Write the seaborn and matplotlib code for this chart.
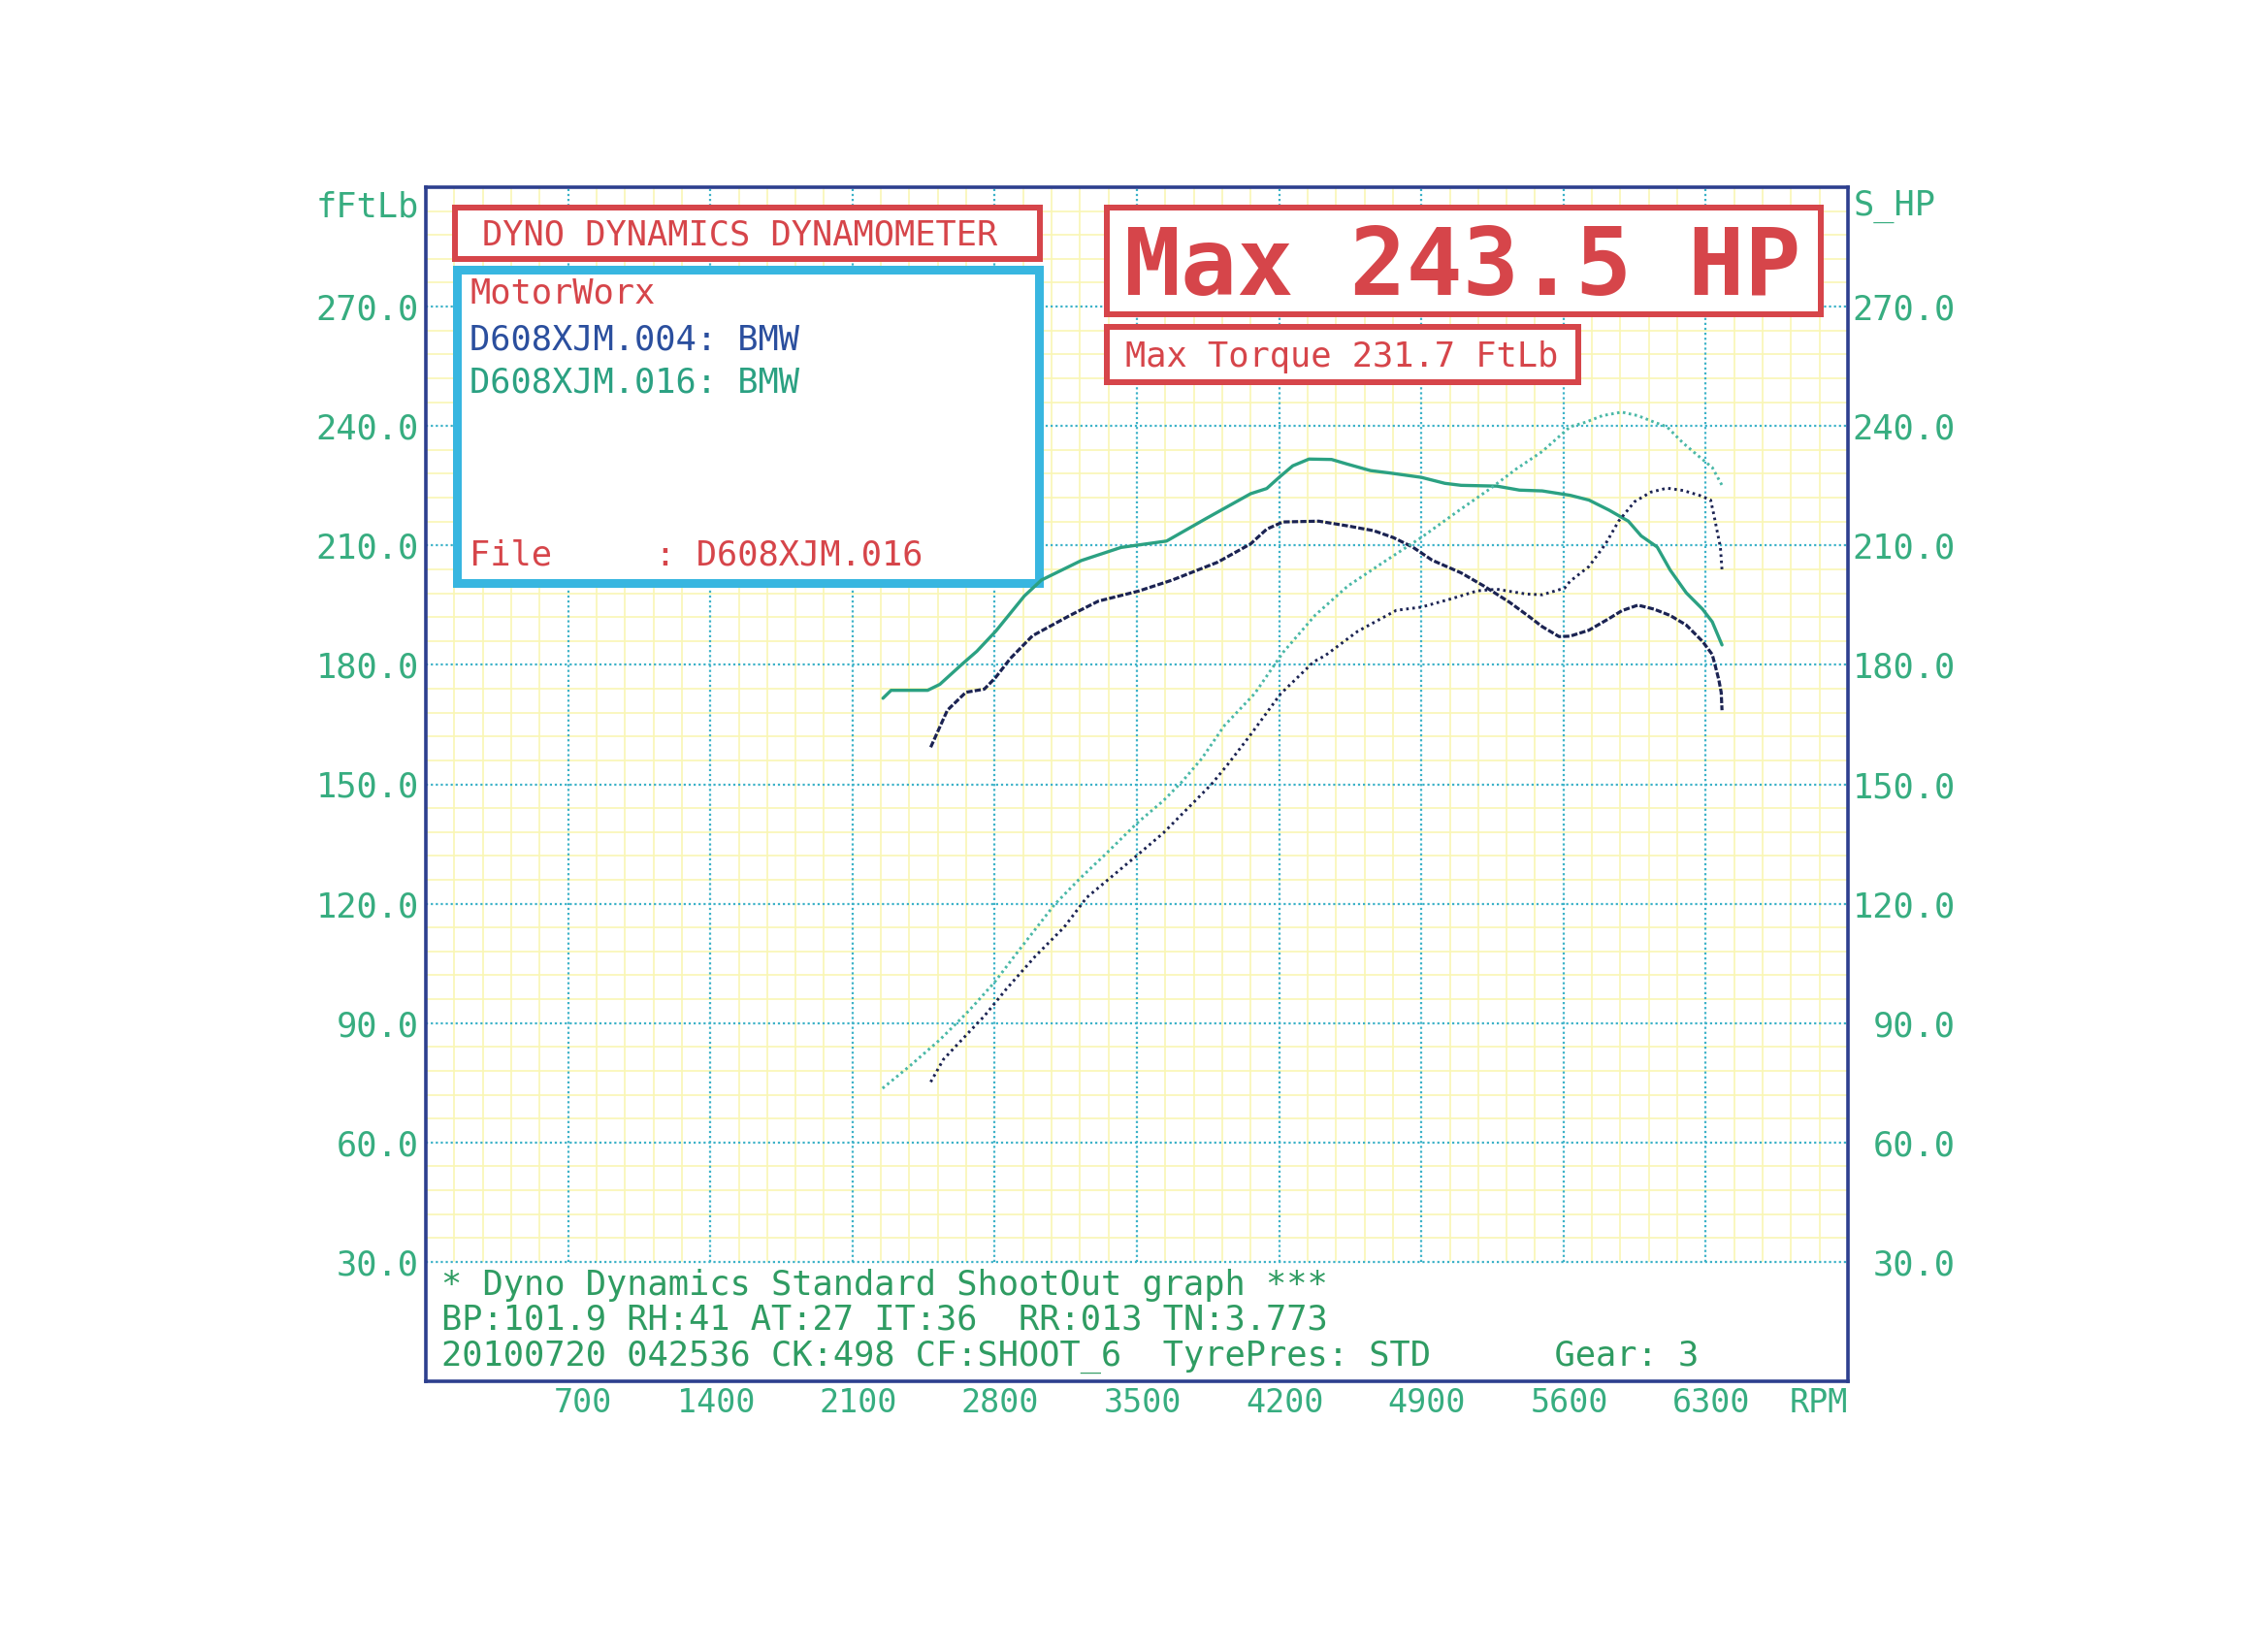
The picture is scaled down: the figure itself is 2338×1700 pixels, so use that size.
import numpy as np
import matplotlib
matplotlib.use("Agg")
import matplotlib.pyplot as plt
from matplotlib.patches import Rectangle
from matplotlib.transforms import ScaledTranslation
import seaborn as sns

# =========================
# DATA
# =========================

# run D608XJM.016 (green) - torque, FtLb
rpm_tq_016 = [2250, 2290, 2470, 2530, 2640, 2712, 2806, 2946, 3030, 3226, 3422, 3646,
              3842, 4060, 4139, 4200, 4267, 4347, 4458, 4538, 4650, 4745, 4900, 5016,
              5096, 5272, 5383, 5495, 5632, 5725, 5823, 5919, 5982, 6061, 6125, 6204,
              6284, 6332, 6380]
tq_016 = [171.6, 173.6, 173.6, 175.1, 180.2, 183.4, 188.5, 197.3, 201.3, 206.2, 209.5, 211.1,
          216.8, 223.0, 224.3, 227.1, 230.0, 231.7, 231.6, 230.4, 228.8, 228.2, 227.1, 225.6,
          225.1, 224.9, 223.9, 223.7, 222.6, 221.4, 218.9, 216.1, 212.4, 209.6, 203.8, 198.1,
          194.0, 190.8, 185.0]

# run D608XJM.004 (dark blue) - torque, FtLb
rpm_tq_004 = [2485, 2567, 2658, 2749, 2804, 2877, 2986, 3170, 3310, 3506, 3674, 3898,
              4060, 4139, 4219, 4395, 4538, 4666, 4761, 4857, 4953, 5096, 5208, 5335,
              5431, 5495, 5578, 5632, 5725, 5823, 5887, 5966, 6045, 6125, 6204, 6284,
              6332, 6348, 6364, 6376, 6380]
tq_004 = [159.3, 168.6, 173.1, 173.9, 176.8, 181.6, 187.3, 192.4, 196.0, 198.5, 201.3, 205.8,
          210.4, 214.1, 215.9, 216.1, 214.9, 213.7, 212.0, 209.6, 206.3, 203.1, 199.8, 195.7,
          192.1, 189.6, 187.1, 187.2, 188.7, 191.6, 193.6, 195.0, 194.0, 192.4, 190.0, 185.9,
          182.6, 179.5, 176.3, 173.1, 168.6]

# run D608XJM.016 (green) - power, HP
rpm_hp_016 = [2248, 2384, 2530, 2658, 2700, 2800, 2921, 3095, 3221, 3347, 3500, 3631,
              3725, 3820, 3930, 4080, 4219, 4378, 4538, 4729, 4900, 5080, 5240, 5367,
              5495, 5632, 5711, 5791, 5886, 5966, 6045, 6109, 6189, 6284, 6332, 6380]
hp_016 = [73.6, 79.3, 85.8, 92.3, 94.6, 100.3, 108.4, 119.8, 126.4, 132.5, 140.2, 145.9,
          150.8, 156.5, 164.7, 172.8, 183.1, 192.5, 199.8, 206.3, 212.0, 218.6, 224.3, 229.2,
          233.6, 239.8, 241.0, 242.6, 243.5, 242.6, 241.0, 239.8, 235.7, 231.6, 229.6, 225.1]

# run D608XJM.004 (dark blue) - power, HP
rpm_hp_004 = [2485, 2548, 2712, 2748, 2858, 3000, 3142, 3252, 3500, 3631, 3788, 3867,
              3946, 4056, 4207, 4371, 4426, 4586, 4777, 4900, 5048, 5176, 5272, 5415,
              5495, 5606, 5632, 5725, 5807, 5871, 5950, 6030, 6109, 6189, 6268, 6324,
              6340, 6356, 6372, 6380]
hp_004 = [75.2, 80.9, 89.8, 91.7, 98.6, 106.8, 114.1, 121.5, 132.1, 137.8, 145.9, 150.0,
          154.9, 162.2, 172.7, 180.8, 182.3, 188.4, 193.7, 194.5, 196.6, 198.6, 199.0, 197.8,
          197.6, 199.3, 201.0, 204.7, 210.4, 216.1, 221.0, 223.4, 224.4, 223.8, 222.6, 221.4,
          217.7, 213.6, 209.6, 203.8]

x_ticks = [700, 1400, 2100, 2800, 3500, 4200, 4900, 5600, 6300]
x_tick_labels = ["700", "1400", "2100", "2800", "3500", "4200", "4900", "5600", "6300"]
y_ticks = [30, 60, 90, 120, 150, 180, 210, 240, 270]
y_tick_labels = ["30.0", "60.0", "90.0", "120.0", "150.0", "180.0", "210.0", "240.0", "270.0"]

header_title = "DYNO DYNAMICS DYNAMOMETER"
shop_name = "MotorWorx"
run_004 = "D608XJM.004: BMW"
run_016 = "D608XJM.016: BMW"
file_line = "File     : D608XJM.016"
max_hp_text = "Max 243.5 HP"
max_tq_text = "Max Torque 231.7 FtLb"
footer_lines = [
    "* Dyno Dynamics Standard ShootOut graph ***",
    "BP:101.9 RH:41 AT:27 IT:36  RR:013 TN:3.773",
    "20100720 042536 CK:498 CF:SHOOT_6  TyrePres: STD      Gear: 3",
]

# =========================
# STYLE
# =========================

sns.set_style("white")
plt.rcParams["font.family"] = ["DejaVu Sans Mono"]

W, H, DPI = 2338, 1700, 100

RED = "#d6454a"
CYAN_BOX = "#38b6e0"
GRID_MAJOR = "#3cb2c8"
GRID_MINOR = "#f9f6b4"
FRAME = "#2d3f8e"
TICK_GREEN = "#37ad80"
FOOT_GREEN = "#2f9c62"
GREEN_TQ = "#2ba182"
GREEN_HP = "#4ab8a6"
DARK = "#1b2352"
BLUE_TXT = "#2b4f9e"


def fx(px):
    return px / W


def fy(py):
    return 1 - py / H


fig = plt.figure(figsize=(W / DPI, H / DPI), dpi=DPI)
fig.patch.set_facecolor("white")

ax = fig.add_axes([fx(439), fy(1424), fx(1905) - fx(439), fy(193) - fy(1424)])

# =========================
# GRID
# =========================

ax.set_axisbelow(True)
ax.set_xticks(np.arange(0, 7001, 140), minor=True)
ax.set_yticks(np.arange(0, 301, 6), minor=True)
ax.grid(which="minor", color=GRID_MINOR, lw=1.2)
ax.tick_params(which="minor", length=0)

# white strip for the footer text
ax.axhspan(0, 30, color="white", zorder=1)

ax.hlines(y_ticks, 0, 7000, colors=GRID_MAJOR, linestyles=(0, (1, 1.3)), lw=1.6, zorder=2)
ax.vlines(x_ticks, 30, 300, colors=GRID_MAJOR, linestyles=(0, (1, 1.3)), lw=1.6, zorder=2)

# =========================
# CURVES
# =========================

sns.lineplot(x=rpm_tq_016, y=tq_016, ax=ax, color=GREEN_TQ, lw=2.4,
             estimator=None, sort=False, zorder=6)
sns.lineplot(x=rpm_tq_004, y=tq_004, ax=ax, color=DARK, lw=2.3, linestyle=(0, (2, 0.7)),
             estimator=None, sort=False, zorder=6)
sns.lineplot(x=rpm_hp_016, y=hp_016, ax=ax, color=GREEN_HP, lw=2.1, linestyle=(0, (0.9, 1.2)),
             estimator=None, sort=False, zorder=6)
sns.lineplot(x=rpm_hp_004, y=hp_004, ax=ax, color=DARK, lw=2.1, linestyle=(0, (0.9, 1.3)),
             estimator=None, sort=False, zorder=6)

ax.set_xlim(0, 7000)
ax.set_ylim(0, 300)

# =========================
# AXES, TICKS, LABELS
# =========================

for s in ax.spines.values():
    s.set_color(FRAME)
    s.set_linewidth(2.6)
    s.set_zorder(7)

ax.set_yticks(y_ticks, labels=y_tick_labels)
ax.tick_params(axis="y", which="major", length=0, pad=5, labelsize=25.5, labelcolor=TICK_GREEN)
ax.set_xticks(x_ticks, labels=x_tick_labels)
ax.tick_params(axis="x", which="major", length=0, pad=4, labelsize=24, labelcolor=TICK_GREEN)
for lab in ax.get_xticklabels():
    lab.set_ha("right")
    lab.set_transform(lab.get_transform() + ScaledTranslation(46 / DPI, 0, fig.dpi_scale_trans))

ax.set_xlabel("RPM", fontsize=24, color=TICK_GREEN, loc="right")
ax.xaxis.set_label_coords(1.0, (1424 - 1446) / 1231)
ax.xaxis.label.set_va("center")

ax.set_ylabel("fFtLb", fontsize=25.5, color=TICK_GREEN, rotation=0)
ax.yaxis.set_label_coords(-0.005, (1424 - 213) / 1231)
ax.yaxis.label.set_ha("right")
ax.yaxis.label.set_va("center")

ax2 = ax.twinx()
ax2.set_ylim(0, 300)
ax2.set_yticks(y_ticks, labels=y_tick_labels)
ax2.tick_params(axis="y", length=0, pad=80, labelsize=25.5, labelcolor=TICK_GREEN)
for lab in ax2.get_yticklabels():
    lab.set_ha("right")
for s in ax2.spines.values():
    s.set_visible(False)
ax2.grid(False)
ax2.set_ylabel("S_HP", fontsize=25.5, color=TICK_GREEN, rotation=0)
ax2.yaxis.set_label_coords(1.004, (1424 - 213) / 1231)
ax2.yaxis.label.set_ha("left")
ax2.yaxis.label.set_va("center")

# =========================
# HEADER BOXES
# =========================


def box(x0, y0, x1, y1, color, lw_px):
    half = lw_px / 2
    ax.add_patch(Rectangle((fx(x0 + half), fy(y1 - half)),
                           fx(x1 - half) - fx(x0 + half), fy(y0 + half) - fy(y1 - half),
                           transform=fig.transFigure, facecolor="white", edgecolor=color,
                           lw=lw_px * 72 / DPI, zorder=3))


def label(x, yc, s, size, color, ha="left", weight="normal"):
    base = yc + 0.3645 * size * DPI / 72
    ax.text(fx(x), fy(base), s, transform=fig.transFigure, ha=ha, va="baseline",
            fontsize=size, color=color, fontweight=weight, zorder=4)


box(466, 211, 1075, 270, RED, 6)
box(466, 274, 1075, 605, CYAN_BOX, 9)
box(1138, 211, 1880, 327, RED, 6)
box(1138, 334, 1630, 397, RED, 6)

label(763, 240, header_title, 25.5, RED, ha="center")
label(484, 300, shop_name, 25.5, RED)
label(484, 348, run_004, 25.5, BLUE_TXT)
label(484, 392, run_016, 25.5, GREEN_TQ)
label(484, 570, file_line, 25.5, RED)
label(1508, 269, max_hp_text, 69.5, RED, ha="center", weight="bold")
label(1383, 365, max_tq_text, 25.5, RED, ha="center")

for yc, line in zip([1322, 1358, 1395], footer_lines):
    label(455, yc, line, 25.5, FOOT_GREEN)

plt.savefig("out.png", dpi=DPI, facecolor="white")
